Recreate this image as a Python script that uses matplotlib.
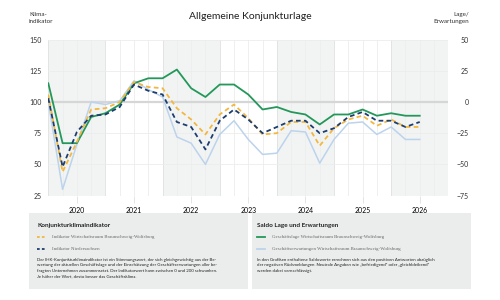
import matplotlib
matplotlib.use("Agg")
import matplotlib.pyplot as plt
from matplotlib.patches import Rectangle
from matplotlib.lines import Line2D

plt.rcParams.update({"font.family": ["Lato", "DejaVu Sans"], "font.size": 5})

# Data (quarterly, 2020 Q1 .. 2026 Q3)
quarters = list(range(27))
years = ["2020", "2021", "2022", "2023", "2024", "2025", "2026"]

# left axis: Konjunkturklimaindikator
klima_bs_wob = [106, 44, 68, 94, 95, 100, 116, 112, 111, 95, 86, 74, 90, 98,
                87, 74, 75, 84, 84, 65, 79, 86, 89, 81, 86, 80, 80]
klima_nds = [103, 48, 76, 89, 90, 96, 114, 109, 106, 84, 80, 62, 85, 94,
             86, 75, 80, 85, 85, 75, 79, 88, 92, 85, 85, 80, 84]
# right axis: Saldo
lage = [15, -33, -33, -12, -9, -2, 15, 19, 19, 26, 11, 4, 14, 14,
        6, -6, -4, -8, -10, -18, -10, -10, -6, -11, -9, -11, -11]
erwartungen = [0, -70, -34, 0, -2, 1, 17, 10, 4, -28, -33, -50, -26, -15,
               -30, -42, -41, -23, -24, -49, -30, -17, -16, -26, -20, -30, -30]

c_yellow = "#f2b73f"
c_navy = "#1c3d6e"
c_green = "#23985a"
c_light = "#bcd3ec"
c_text = "#333333"

fig = plt.figure(figsize=(5, 3), dpi=100)
ax2 = fig.add_axes([0.0966, 0.348, 0.8, 0.52])
ax = ax2.twinx()
ax.yaxis.tick_left()
ax2.yaxis.tick_right()
ax.set_zorder(ax2.get_zorder() + 1)
ax.patch.set_visible(False)

for a in (ax, ax2):
    a.set_xlim(0, 28)
    for s in a.spines.values():
        s.set_visible(False)
ax.set_ylim(25, 150)
ax2.set_ylim(-75, 50)

# shaded years and grid (on the lower axes)
for i in range(0, 7, 2):
    ax2.axvspan(i * 4, i * 4 + 4, color="#f2f4f4", zorder=0, lw=0)
for q in range(29):
    col = "#e0e0e0" if q % 4 == 0 else "#ededed"
    ax2.axvline(q, color=col, lw=0.6, zorder=1)
for v in [-75, -50, -25, 25, 50]:
    ax2.axhline(v, color="#ececec", lw=0.6, zorder=1)
ax2.axhline(0, color="#d6d6d6", lw=1.6, zorder=1)

# lines
ax2.plot(quarters, erwartungen, color=c_light, lw=1.1, zorder=3)
ax2.plot(quarters, lage, color=c_green, lw=1.3, zorder=4)
ax.plot(quarters, klima_bs_wob, color=c_yellow, lw=1.3, dashes=(2.6, 1.8), zorder=5)
ax.plot(quarters, klima_nds, color=c_navy, lw=1.3, dashes=(2.6, 1.8), zorder=6)

# ticks
ax.set_yticks([25, 50, 75, 100, 125, 150])
ax.tick_params(axis="y", length=0, pad=5, labelsize=5, labelcolor=c_text)
ax2.set_yticks([-75, -50, -25, 0, 25, 50])
ax2.tick_params(axis="y", length=0, pad=14.5, labelsize=5, labelcolor=c_text)
for lab in ax2.get_yticklabels():
    lab.set_horizontalalignment("right")
ax2.set_xticks(range(29))
ax2.set_xticklabels([])
ax2.tick_params(axis="x", length=5, width=0.6, color="#e0e0e0")
ax.set_xticks([i * 4 + 2 for i in range(7)])
ax.set_xticklabels(years)
ax.tick_params(axis="x", length=0, pad=5, labelsize=5, labelcolor=c_text)

# titles
fig.text(0.5, 0.945, "Allgemeine Konjunkturlage", ha="center", va="center",
         fontsize=7.5, color="#222222")
fig.text(0.058, 0.94, "Klima-\nindikator", ha="left", va="center",
         fontsize=4.5, color=c_text, linespacing=1.5)
fig.text(0.938, 0.94, "Lage/\nErwartungen", ha="right", va="center",
         fontsize=4.5, color=c_text, linespacing=1.5)

# legend boxes
box_col = "#ebeded"
fig.patches.append(Rectangle((29 / 500, 1 - 289 / 300), 219 / 500, 76 / 300,
                             transform=fig.transFigure, color=box_col, lw=0))
fig.patches.append(Rectangle((252 / 500, 1 - 289 / 300), 219 / 500, 76 / 300,
                             transform=fig.transFigure, color=box_col, lw=0))

def legend_entry(x, y, color, dashed, label):
    ls = (0, (1.5, 1.2)) if dashed else "-"
    fig.lines.append(Line2D([x / 500, (x + 7.5) / 500], [1 - y / 300] * 2,
                            transform=fig.transFigure, color=color, lw=1.3, linestyle=ls))
    fig.text((x + 15) / 500, 1 - y / 300, label, ha="left", va="center",
             fontsize=3.5, color="#666666", family="Liberation Serif")

fig.text(37 / 500, 1 - 225 / 300, "Konjunkturklimaindikator", ha="left", va="center",
         fontsize=4.6, color="#222222", fontweight="bold")
legend_entry(37, 237, c_yellow, True, "Indikator Wirtschaftsraum Braunschweig-Wolfsburg")
legend_entry(37, 249, c_navy, True, "Indikator Niedersachsen")
fig.text(37 / 500, 1 - 258 / 300,
         "Der IHK-Konjunkturklimaindikator ist ein Stimmungswert, der sich gleichgewichtig aus der Be-\n"
         "wertung der aktuellen Geschäftslage und der Einschätzung der Geschäftserwartungen aller be-\n"
         "fragten Unternehmen zusammensetzt. Der Indikatorwert kann zwischen 0 und 200 schwanken.\n"
         "Je höher der Wert, desto besser das Geschäftsklima.",
         ha="left", va="top", fontsize=3.2, color="#222222", linespacing=1.45)

fig.text(257 / 500, 1 - 225 / 300, "Saldo Lage und Erwartungen", ha="left", va="center",
         fontsize=4.6, color="#222222", fontweight="bold")
legend_entry(257, 237, c_green, False, "Geschäftslage Wirtschaftsraum Braunschweig-Wolfsburg")
legend_entry(257, 249, c_light, False, "Geschäftserwartungen Wirtschaftsraum Braunschweig-Wolfsburg")
fig.text(257 / 500, 1 - 258 / 300,
         "In den Grafiken enthaltene Saldowerte errechnen sich aus den positiven Antworten abzüglich\n"
         "der negativen Rückmeldungen. Neutrale Angaben wie \u201ebefriedigend\u201c oder \u201egleichbleibend\u201c\n"
         "werden dabei vernachlässigt.",
         ha="left", va="top", fontsize=3.2, color="#222222", linespacing=1.45)

fig.savefig("out.png", dpi=100)
